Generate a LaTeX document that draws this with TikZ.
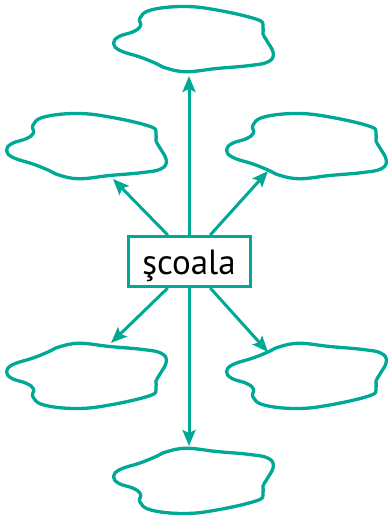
\documentclass[tikz,border=0pt]{standalone}
\usepackage{fontspec}
\setmainfont{PT Sans}
\usetikzlibrary{arrows.meta,calc}
\definecolor{teal1}{HTML}{00A896}
\tikzset{
  blob/.style={draw=teal1, line width=3.3pt, line join=round},
  conn/.style={draw=teal1, line width=3pt, -{Stealth[length=16pt,width=13pt,inset=3pt]}},
  centerbox/.style={draw=teal1, line width=3pt, fill=white, inner sep=0pt,
    minimum width=122pt, text height=38pt, text depth=12pt, font=\fontsize{35}{40}\selectfont}
}
\newcommand{\blobpath}{plot[smooth cycle, tension=0.7] coordinates {
 (27,12) (38,4) (70.3,0.5) (103.7,4) (143.7,13.3) (150,20) (150,28)
 (154,35) (160.3,47.3) (155.3,55.7) (137,59.5) (103.7,62.5) (73.7,65.7)
 (53.7,62.3) (42,57) (27,51) (7,44.5) (0.5,37.3) (6,30.5) (20.3,25.7) (27.5,20)}}
\begin{document}
\begin{tikzpicture}[x=1pt,y=-1pt]
\useasboundingbox (0,0) rectangle (388,519);
% blobs
\begin{scope}[shift={(113,6)}] \draw[blob] \blobpath; \end{scope}
\begin{scope}[shift={(6,113)}] \draw[blob] \blobpath; \end{scope}
\begin{scope}[shift={(226,113)}] \draw[blob] \blobpath; \end{scope}
\begin{scope}[shift={(6,409)},yscale=-1] \draw[blob] \blobpath; \end{scope}
\begin{scope}[shift={(226,409)},yscale=-1] \draw[blob] \blobpath; \end{scope}
\begin{scope}[shift={(113,514)},yscale=-1] \draw[blob] \blobpath; \end{scope}
% center
\node[centerbox] (s) at (189,261.5) {şcoala};
\coordinate (ttop) at (189,76);
\coordinate (tul) at (113,179);
\coordinate (tur) at (268,171);
\coordinate (tll) at (111,343);
\coordinate (tlr) at (268,352);
\coordinate (tbot) at (189,446);
\draw[conn] (s.north) -- (ttop);
\draw[conn] ($(s.north west)!0.33!(s.north east)$) -- (tul);
\draw[conn] ($(s.north west)!0.67!(s.north east)$) -- (tur);
\draw[conn] ($(s.south west)!0.33!(s.south east)$) -- (tll);
\draw[conn] ($(s.south west)!0.67!(s.south east)$) -- (tlr);
\draw[conn] (s.south) -- (tbot);
\end{tikzpicture}
\end{document}
